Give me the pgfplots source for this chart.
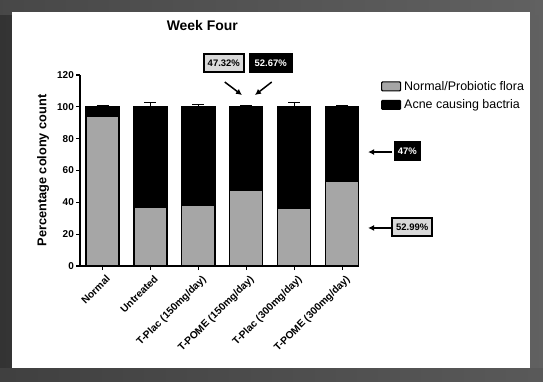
\documentclass[border=0pt]{standalone}
\usepackage{pgfplots}
\pgfplotsset{compat=1.18}
\usepackage{fontspec}
\setmainfont{Liberation Sans}
\usetikzlibrary{arrows.meta}
\definecolor{floragray}{HTML}{A6A6A6}
\definecolor{boxgray}{HTML}{D9D9D9}
\begin{document}
\begin{tikzpicture}[x=1bp,y=1bp]
% decorative frame
\shade[left color=black!80, right color=black!62] (-80,-115) rectangle (463,266);
\shade[left color=black!72, middle color=black!12, right color=black!62] (-80,252) rectangle (463,266);
\shade[left color=black!75, middle color=black!62, right color=black!65] (-80,-115) rectangle (463,-102);
\fill[white] (-68,-102) rectangle (450,254);
\begin{axis}[
  at={(0,0)}, anchor=south west,
  scale only axis, width=278bp, height=191bp,
  xmin=-0.47, xmax=5.33, ymin=0, ymax=120,
  axis x line*=bottom, axis y line*=left,
  axis line style={line width=1.3pt, -},
  ytick={0,20,...,120},
  xtick={0,...,5},
  xticklabels={Normal,Untreated,T-Plac (150mg/day),T-POME (150mg/day),T-Plac (300mg/day),T-POME (300mg/day)},
  tick style={line width=1.3pt, black},
  tick align=outside, major tick length=4bp,
  /pgf/number format/assume math mode=true,
  x tick label style={rotate=45, anchor=north east, font=\bfseries\fontsize{10.3}{11}\selectfont, inner sep=1pt, yshift=-4bp},
  y tick label style={font=\bfseries\fontsize{10}{12}\selectfont, inner sep=2pt},
  ylabel={Percentage colony count},
  ylabel style={font=\bfseries\fontsize{12.8}{14}\selectfont, at={(axis description cs:-0.133,0.5)}, anchor=center},
  title={Week Four},
  title style={font=\bfseries\fontsize{14}{16}\selectfont, at={(axis description cs:0.44,1.23)}, anchor=center},
  clip=false,
  legend image code/.code={\draw[#1, line width=1.2pt, rounded corners=1pt] (0bp,-4.5bp) rectangle (19bp,4.5bp);},
  legend style={draw=none, fill=none, at={(axis description cs:1.075,0.995)}, anchor=north west,
    font=\fontsize{12.5}{14}\selectfont, row sep=2bp, inner sep=2pt,
    nodes={inner sep=3pt}},
  legend cell align=left,
]
\addlegendimage{fill=floragray, draw=black}
\addlegendimage{fill=black, draw=black}
\addplot[ybar, bar width=0.69, bar shift=0pt, fill=black, draw=black, line width=1.2pt, forget plot,
  error bars/.cd, y dir=plus, y explicit,
  error bar style={line width=1.2pt, black},
  error mark options={rotate=90, mark size=6bp, line width=1.2pt, black}]
  coordinates {(0,100) +- (0,1) (1,100) +- (0,2.5) (2,100) +- (0,1.5) (3,100) +- (0,0.8) (4,100) +- (0,2.5) (5,100) +- (0,1)};
\addplot[ybar, bar width=0.69, bar shift=0pt, fill=floragray, draw=black, line width=1.2pt, forget plot]
  coordinates {(0,94) (1,37) (2,38) (3,47.32) (4,36) (5,52.99)};
\legend{Normal/Probiotic flora, Acne causing bactria}
% annotations
\tikzset{gbox/.style={draw=black, line width=1.5pt, fill=boxgray, font=\bfseries\fontsize{9.5}{10}\selectfont, minimum height=18bp, minimum width=40bp, inner sep=2pt},
         bbox/.style={draw=black, line width=1.5pt, fill=black, text=white, font=\bfseries\fontsize{9.5}{10}\selectfont, minimum height=18bp, minimum width=42bp, inner sep=2pt},
         arr/.style={line width=1.5pt, -{Latex[length=6bp,width=6bp]}}}
\node[gbox] at (axis cs:2.53,127.5) {47.32\%};
\node[bbox] at (axis cs:3.51,127.5) {52.67\%};
\draw[arr] (axis cs:2.55,115.6) -- (axis cs:2.91,107.4);
\draw[arr] (axis cs:3.53,115.6) -- (axis cs:3.18,107.4);
\node[bbox, minimum width=26bp] at (axis cs:6.36,72.2) {47\%};
\draw[arr] (axis cs:6.04,71.6) -- (axis cs:5.54,71.6);
\node[gbox] at (axis cs:6.46,24.5) {52.99\%};
\draw[arr] (axis cs:6.02,23.9) -- (axis cs:5.54,23.9);
\end{axis}
\end{tikzpicture}
\end{document}
